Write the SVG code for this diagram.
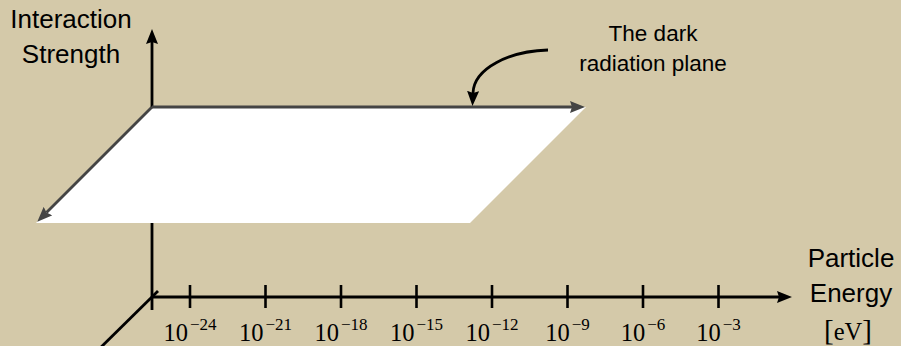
<svg xmlns="http://www.w3.org/2000/svg" width="901" height="346" viewBox="0 0 901 346">
  <defs>
    <marker id="ahBlack" markerUnits="userSpaceOnUse" markerWidth="16" markerHeight="12" refX="2" refY="6" orient="auto">
      <path d="M0,0 L15,6 L0,12 L2,6 z" fill="#000"/>
    </marker>
    <marker id="ahGray" markerUnits="userSpaceOnUse" markerWidth="16" markerHeight="12" refX="2" refY="6" orient="auto">
      <path d="M0,0 L15,6 L0,12 L2,6 z" fill="#444"/>
    </marker>
    <style>
      .axis { stroke: #000; stroke-width: 2.8; fill: none; }
      .edge { stroke: #444; stroke-width: 2.8; fill: none; }
      .tick { stroke: #000; stroke-width: 2.6; }
      .sans { font-family: "Liberation Sans", "DejaVu Sans", sans-serif; fill: #000; text-anchor: middle; }
      .serif { font-family: "Liberation Serif", "DejaVu Serif", serif; fill: #000; text-anchor: middle; }
      .lbl { font-size: 24.5px; }
      .sup { font-size: 17px; }
    </style>
  </defs>
  <rect x="0" y="0" width="901" height="346" fill="#d4c9a9"/>

  <g id="connectors">
    <!-- depth axis -->
    <line class="axis" x1="158" y1="291" x2="90" y2="358"/>
    <!-- vertical axis -->
    <line class="axis" x1="152" y1="310" x2="152" y2="42" marker-end="url(#ahBlack)"/>
    <!-- horizontal axis -->
    <line class="axis" x1="152" y1="297" x2="779" y2="297" marker-end="url(#ahBlack)"/>
  </g>

  <g id="plane">
    <polygon points="152,107 586,107 470,223 36,223" fill="#fff"/>
    <line class="edge" x1="152" y1="107" x2="572" y2="107" marker-end="url(#ahGray)"/>
    <line class="edge" x1="152" y1="107" x2="46.5" y2="212.5" marker-end="url(#ahGray)"/>
  </g>

  <g id="ticks">
    <line class="tick" x1="190" y1="285" x2="190" y2="308"/>
    <line class="tick" x1="265.5" y1="285" x2="265.5" y2="308"/>
    <line class="tick" x1="341" y1="285" x2="341" y2="308"/>
    <line class="tick" x1="416.5" y1="285" x2="416.5" y2="308"/>
    <line class="tick" x1="492" y1="285" x2="492" y2="308"/>
    <line class="tick" x1="567.5" y1="285" x2="567.5" y2="308"/>
    <line class="tick" x1="643" y1="285" x2="643" y2="308"/>
    <line class="tick" x1="718.5" y1="285" x2="718.5" y2="308"/>
  </g>

  <g id="tick-labels" class="serif">
    <text x="190" y="341" class="lbl">10<tspan class="sup" dx="2" dy="-11">−24</tspan></text>
    <text x="265.5" y="341" class="lbl">10<tspan class="sup" dx="2" dy="-11">−21</tspan></text>
    <text x="341" y="341" class="lbl">10<tspan class="sup" dx="2" dy="-11">−18</tspan></text>
    <text x="416.5" y="341" class="lbl">10<tspan class="sup" dx="2" dy="-11">−15</tspan></text>
    <text x="492" y="341" class="lbl">10<tspan class="sup" dx="2" dy="-11">−12</tspan></text>
    <text x="567.5" y="341" class="lbl">10<tspan class="sup" dx="2" dy="-11">−9</tspan></text>
    <text x="643" y="341" class="lbl">10<tspan class="sup" dx="2" dy="-11">−6</tspan></text>
    <text x="718.5" y="341" class="lbl">10<tspan class="sup" dx="2" dy="-11">−3</tspan></text>
  </g>

  <g id="y-label" class="sans" font-size="26">
    <text x="71" y="28">Interaction</text>
    <text x="71" y="63">Strength</text>
  </g>

  <g id="x-label">
    <text class="sans" x="851" y="267" font-size="26">Particle</text>
    <text class="sans" x="851" y="302" font-size="26">Energy</text>
    <text class="serif" x="848" y="340" font-size="24.5"><tspan font-size="29">[</tspan>eV<tspan font-size="29">]</tspan></text>
  </g>

  <g id="annotation">
    <text class="sans" x="653" y="41" font-size="22.5">The dark</text>
    <text class="sans" x="653" y="71" font-size="22.5">radiation plane</text>
    <path class="axis" d="M548,50 C510,51 474,68 473,93" marker-end="url(#ahBlack)"/>
  </g>
</svg>
